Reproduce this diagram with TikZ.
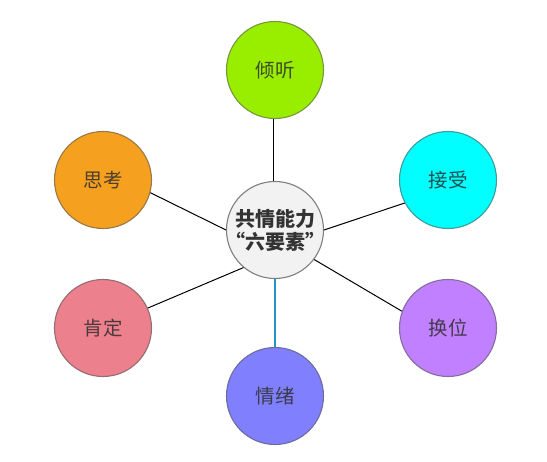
\documentclass[tikz,border=0pt]{standalone}
\usepackage{fontspec}
\setmainfont{Noto Sans CJK SC}
\usepackage{xcolor}
\usetikzlibrary{positioning}

\definecolor{qingtingc}{RGB}{153,238,0}
\definecolor{jieshouc}{RGB}{0,255,255}
\definecolor{huanweic}{RGB}{192,128,255}
\definecolor{qingxuc}{RGB}{128,128,255}
\definecolor{kendingc}{RGB}{236,128,140}
\definecolor{sikaoc}{RGB}{245,160,30}
\definecolor{hubc}{RGB}{242,242,242}
\definecolor{linkblue}{RGB}{30,150,200}

\begin{document}
\begin{tikzpicture}[
    x=1pt, y=-1pt,
    bubble/.style={circle, draw=#1!45!gray!85!black, fill=#1, line width=1.1pt, minimum size=97pt,
        inner sep=0pt, text=#1!18!black!85, font=\fontsize{19.5}{22}\selectfont},
    hub/.style={circle, draw=gray, fill=hubc, line width=1.1pt, minimum size=97pt,
        inner sep=-8pt, align=center, text=black!80, font=\fontsize{20}{23}\selectfont\bfseries},
    link/.style={line width=1pt, black}
]
    \useasboundingbox (0,0) rectangle (547,462);

    % Centre
    \node[hub] (hub) at (275,230) {共情能力\\“六要素”};

    % Elements
    \node[bubble=qingtingc] (qingting) at (275,70) {倾听};
    \node[bubble=jieshouc] (jieshou) at (448,180) {接受};
    \node[bubble=huanweic] (huanwei) at (448,328) {换位};
    \node[bubble=qingxuc] (qingxu) at (275,396) {情绪};
    \node[bubble=kendingc] (kending) at (103,328) {肯定};
    \node[bubble=sikaoc] (sikao) at (103,180) {思考};

    % Links
    \draw[link] (hub.92) -- (qingting.268);
    \draw[link] (hub.0) -- (jieshou.208);
    \draw[link] (hub.-37) -- (huanwei.160);
    \draw[linkblue, line width=2.5pt] (hub.south) -- (qingxu.north);
    \draw[link] (hub.-130) -- (kending.24);
    \draw[link] (hub.180) -- (sikao.-15);
\end{tikzpicture}
\end{document}
